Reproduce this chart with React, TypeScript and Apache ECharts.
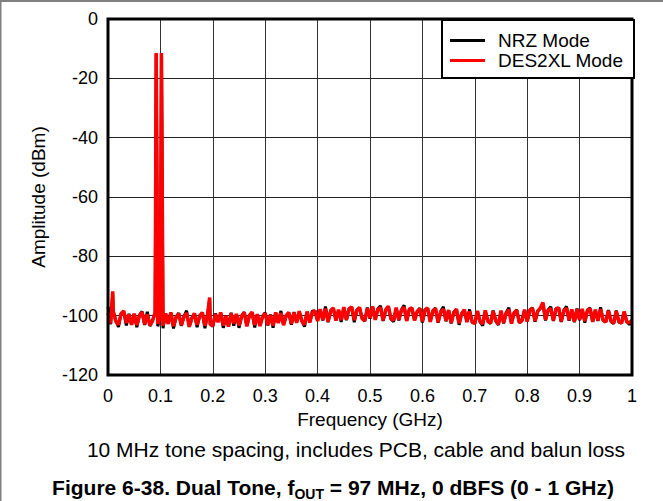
import React, { useEffect, useRef } from "react";
import * as echarts from "echarts";

const FONT = '"Liberation Sans", Arial, sans-serif';

const STEP = 0.005; // GHz between samples of the noise floor
const xTicks = [0, 0.1, 0.2, 0.3, 0.4, 0.5, 0.6, 0.7, 0.8, 0.9, 1];
const yTicks = [0, -20, -40, -60, -80, -100, -120];

// DES2XL Mode (red) noise floor, 0 .. 1 GHz every 5 MHz
const des2xlFloor = [
  -99.1, -102.6, -98.7, -101.9, -103.0, -99.4, -98.4, -102.5, -99.6, -103.1,
  -99.3, -103.2, -100.0, -98.8, -102.9, -99.6, -103.3, -101.8, -98.9, -102.8,
  -100.2, -103.4, -99.2, -102.8, -98.9, -103.5, -100.6, -99.3, -103.2, -100.4,
  -99.1, -103.6, -101.0, -99.2, -103.1, -100.2, -98.9, -103.4, -99.8, -102.9,
  -103.4, -99.5, -102.2, -98.9, -103.3, -100.1, -103.7, -99.2, -102.6, -99.4,
  -103.3, -100.1, -99.0, -103.6, -100.0, -98.8, -103.2, -99.5, -103.5, -100.4,
  -99.2, -103.1, -99.8, -103.4, -98.9, -102.5, -99.1, -103.2, -100.0, -98.9,
  -102.8, -99.0, -102.4, -98.5, -101.9, -103.0, -98.6, -102.3, -99.0, -98.3,
  -101.8, -97.8, -101.4, -97.6, -102.0, -98.4, -97.4, -101.7, -98.0, -101.5,
  -97.1, -101.3, -97.8, -97.0, -101.5, -98.2, -97.2, -101.0, -101.7, -97.5,
  -100.8, -96.9, -101.4, -97.9, -97.3, -101.6, -98.0, -96.8, -101.0, -101.5,
  -97.3, -101.4, -98.2, -97.1, -101.8, -97.8, -97.4, -101.6, -98.6, -97.6,
  -101.9, -98.0, -97.4, -102.1, -98.5, -97.6, -102.2, -98.7, -97.8, -101.7,
  -98.1, -102.4, -99.0, -97.8, -102.6, -99.4, -98.0, -102.2, -98.6, -102.1,
  -102.7, -98.4, -101.9, -102.8, -98.2, -102.0, -102.5, -98.5, -101.6, -102.9,
  -98.3, -102.4, -99.1, -98.0, -102.7, -99.0, -98.2, -102.3, -101.7, -98.0,
  -102.0, -98.1, -97.5, -101.8, -98.6, -97.4, -95.6, -101.4, -98.2, -97.6,
  -101.6, -97.8, -97.3, -101.9, -98.3, -97.5, -101.5, -97.9, -102.0, -97.8,
  -101.3, -97.7, -101.8, -98.3, -97.6, -102.1, -98.0, -101.6, -97.8, -101.5,
  -102.2, -98.3, -101.8, -102.5, -98.5, -102.0, -102.6, -98.6, -102.1, -102.4,
  -101.5,
];

// NRZ Mode (black) noise floor, 0 .. 1 GHz every 5 MHz
const nrzFloor = [
  -97.0, -102.9, -98.5, -101.7, -103.8, -99.2, -98.6, -103.3, -99.4, -103.0,
  -99.5, -103.9, -99.8, -98.6, -103.1, -98.7, -103.5, -101.6, -99.1, -103.6,
  -100.0, -104.2, -99.4, -102.6, -99.1, -104.3, -100.4, -99.1, -103.4, -100.2,
  -98.3, -103.8, -100.8, -99.4, -103.9, -100.0, -99.1, -104.2, -99.6, -102.7,
  -103.6, -99.3, -102.0, -99.1, -104.1, -100.3, -103.5, -99.0, -103.4, -99.6,
  -104.1, -100.3, -98.8, -103.4, -99.8, -99.0, -104.0, -99.7, -103.3, -100.2,
  -99.0, -103.3, -99.6, -104.1, -99.1, -102.3, -98.4, -103.0, -100.2, -99.1,
  -103.0, -98.8, -102.2, -98.7, -101.7, -103.7, -98.8, -102.1, -98.4, -98.5,
  -101.6, -98.0, -101.6, -96.9, -102.2, -98.2, -97.6, -101.5, -98.2, -102.1,
  -97.3, -101.5, -97.6, -97.2, -102.2, -98.0, -97.4, -100.8, -101.9, -97.3,
  -101.0, -97.1, -101.2, -97.7, -96.7, -101.8, -98.2, -97.0, -101.2, -102.0,
  -97.5, -101.6, -98.0, -96.5, -101.6, -98.0, -97.6, -101.4, -98.8, -97.4,
  -102.3, -98.2, -97.6, -101.9, -98.3, -97.4, -102.4, -98.5, -97.0, -101.9,
  -98.3, -102.6, -98.8, -98.0, -103.1, -99.2, -98.2, -102.0, -97.9, -102.3,
  -102.5, -98.6, -102.1, -103.4, -98.4, -101.8, -102.7, -98.3, -101.8, -103.1,
  -98.5, -102.6, -98.9, -97.3, -102.5, -99.2, -98.0, -102.5, -101.5, -98.2,
  -101.8, -98.3, -97.3, -102.0, -98.4, -97.6, -96.0, -101.6, -98.0, -97.0,
  -101.8, -97.6, -97.5, -102.1, -98.1, -96.9, -101.7, -98.1, -102.2, -97.6,
  -101.5, -97.9, -102.4, -98.1, -97.4, -101.9, -98.2, -101.8, -97.2, -101.7,
  -102.0, -98.1, -102.0, -102.7, -98.3, -102.2, -102.4, -98.8, -101.9, -103.0,
  -101.7,
];

// tones and spurs: [GHz, dBm]
const des2xlPeaks = [
  [0.009, -91.8],
  [0.092, -11.5],
  [0.102, -11.5],
  [0.194, -93.9],
];
const nrzPeaks = [
  [0.009, -92.6],
  [0.092, -11.8],
  [0.102, -11.8],
  [0.194, -94.5],
];

function buildSeries(floor: number[], peaks: number[][]) {
  const pts: number[][] = floor.map((v, i) => [Number((i * STEP).toFixed(3)), v]);
  peaks.forEach((p) => pts.push([p[0], p[1]]));
  pts.sort((a, b) => a[0] - b[0]);
  return pts;
}

export default function App() {
  const ref = useRef<HTMLDivElement>(null);
  useEffect(() => {
    if (!ref.current) return;
    const chart = echarts.init(ref.current, null, { renderer: "svg" });
    chart.setOption({
      animation: false,
      backgroundColor: "#fff",
      textStyle: { fontFamily: FONT },
      grid: {
        left: 108,
        top: 19,
        width: 524,
        height: 356,
        show: true,
        borderColor: "#000",
        borderWidth: 3,
        backgroundColor: "transparent",
        z: 3,
      },
      legend: {
        data: ["NRZ Mode", "DES2XL Mode"],
        orient: "vertical",
        left: 450,
        top: 31,
        padding: 0,
        itemGap: 1,
        itemWidth: 35,
        itemHeight: 3,
        icon: "rect",
        textStyle: { fontSize: 19, color: "#000", fontFamily: FONT, padding: [0, 0, 0, 8] },
        z: 10,
      },
      xAxis: {
        type: "value",
        min: 0,
        max: 1,
        interval: 0.1,
        name: "Frequency (GHz)",
        nameLocation: "middle",
        nameGap: 29,
        nameTextStyle: { fontSize: 19, color: "#000", fontFamily: FONT },
        axisLine: { show: false },
        axisTick: { show: false },
        axisLabel: {
          fontSize: 18,
          color: "#000",
          margin: 12,
          fontFamily: FONT,
          formatter: (v: number) => {
            const t = xTicks.find((x) => Math.abs(x - v) < 1e-6);
            return t === undefined ? "" : String(t);
          },
        },
        splitLine: { show: true, lineStyle: { color: "#333", width: 1 } },
      },
      yAxis: {
        type: "value",
        min: -120,
        max: 0,
        interval: 20,
        name: "Amplitude (dBm)",
        nameLocation: "middle",
        nameGap: 60,
        nameTextStyle: { fontSize: 19, color: "#000", fontFamily: FONT },
        axisLine: { show: false },
        axisTick: { show: false },
        axisLabel: {
          fontSize: 18,
          color: "#000",
          margin: 10,
          fontFamily: FONT,
          formatter: (v: number) => {
            const t = yTicks.find((y) => Math.abs(y - v) < 1e-6);
            return t === undefined ? "" : String(t);
          },
        },
        splitLine: { show: true, lineStyle: { color: "#222", width: 1 } },
      },
      graphic: [
        { type: "rect", left: 0, top: 0, shape: { width: 663, height: 2 }, style: { fill: "#808080" }, z: 20 },
        { type: "rect", left: 0, top: 0, shape: { width: 1.5, height: 501 }, style: { fill: "#808080" }, z: 20 },
        {
          type: "rect",
          left: 441,
          top: 19,
          shape: { width: 192, height: 58 },
          style: { fill: "#fff", stroke: "#000", lineWidth: 2 },
          z: 5,
        },
        {
          type: "text",
          x: 356,
          y: 449,
          style: {
            text: "10 MHz tone spacing, includes PCB, cable and balun loss",
            fontSize: 21,
            fontFamily: FONT,
            fill: "#000",
            align: "center",
            verticalAlign: "middle",
          },
          z: 10,
        },
        {
          type: "text",
          x: 333,
          y: 487,
          style: {
            text: "{b|Figure 6-38. Dual Tone, f}{s|OUT}{b| = 97 MHz, 0 dBFS (0 - 1 GHz)}",
            fontFamily: FONT,
            fill: "#000",
            align: "center",
            verticalAlign: "middle",
            rich: {
              b: { fontSize: 21, fontWeight: "bold", fontFamily: FONT, lineHeight: 28, verticalAlign: "middle" },
              s: { fontSize: 14, fontWeight: "bold", fontFamily: FONT, lineHeight: 28, verticalAlign: "bottom" },
            },
          },
          z: 10,
        },
      ],
      series: [
        {
          name: "NRZ Mode",
          type: "line",
          data: buildSeries(nrzFloor, nrzPeaks),
          symbol: "none",
          lineStyle: { color: "#000", width: 3 },
          itemStyle: { color: "#000" },
          z: 2,
        },
        {
          name: "DES2XL Mode",
          type: "line",
          data: buildSeries(des2xlFloor, des2xlPeaks),
          symbol: "none",
          lineStyle: { color: "#ff0000", width: 3.5 },
          itemStyle: { color: "#ff0000" },
          z: 2,
        },
      ],
    });
    return () => chart.dispose();
  }, []);
  return (
    <div
      ref={ref}
      style={{ position: "fixed", left: 0, top: 0, width: 663, height: 501, background: "#fff" }}
    />
  );
}
